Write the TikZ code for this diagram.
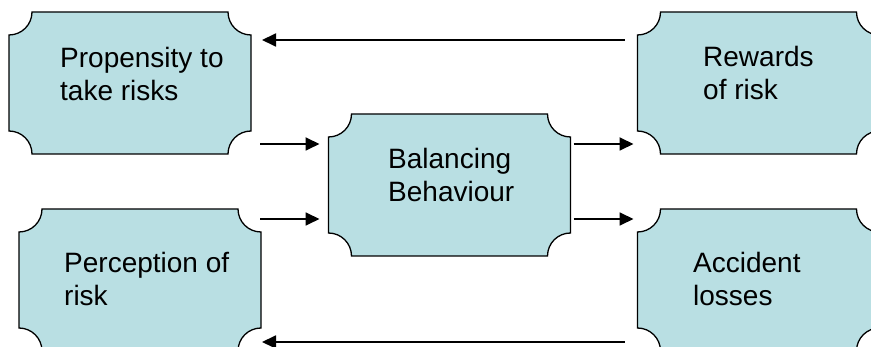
\documentclass[tikz,border=0pt]{standalone}
\usepackage{fontspec}
\setmainfont{Liberation Sans}
\usetikzlibrary{calc,arrows.meta}
\definecolor{boxfill}{RGB}{185,223,227}
\def\pr{23}
\def\pk{12.7}
\newcommand\plaque[1]{%
 \path[plaqueshape] ($(#1.north west)+(\pr,0)$) -- ($(#1.north east)+(-\pr,0)$)
  .. controls ($(#1.north east)+(-\pr,\pk)$) and ($(#1.north east)+(-\pk,\pr)$) .. ($(#1.north east)+(0,\pr)$)
  -- ($(#1.south east)+(0,-\pr)$)
  .. controls ($(#1.south east)+(-\pk,-\pr)$) and ($(#1.south east)+(-\pr,-\pk)$) .. ($(#1.south east)+(-\pr,0)$)
  -- ($(#1.south west)+(\pr,0)$)
  .. controls ($(#1.south west)+(\pr,-\pk)$) and ($(#1.south west)+(\pk,-\pr)$) .. ($(#1.south west)+(0,-\pr)$)
  -- ($(#1.north west)+(0,\pr)$)
  .. controls ($(#1.north west)+(\pk,\pr)$) and ($(#1.north west)+(\pr,\pk)$) .. cycle;}
\tikzset{
  boxarea/.style={rectangle, inner sep=0pt, outer sep=0pt, minimum width=242pt, minimum height=142pt},
  plaqueshape/.style={draw=black, line width=1.3pt, fill=boxfill},
  label/.style={anchor=base west, align=left, inner sep=0pt, font=\fontsize{28}{32.5}\selectfont},
  arr/.style={line width=1.8pt, -{Triangle[length=14pt,width=13pt]}}
}
\begin{document}
\begin{tikzpicture}[x=1pt,y=-1pt]
\useasboundingbox (0,0) rectangle (871,347);
\clip (0,0) rectangle (871,347);
\node[boxarea] (b1) at (130,83) {};
\node[boxarea] (b2) at (449.5,185) {};
\node[boxarea] (b3) at (758.5,83) {};
\node[boxarea] (b4) at (140,280) {};
\node[boxarea] (b5) at (758.5,280) {};
\plaque{b1}\plaque{b2}\plaque{b3}\plaque{b4}\plaque{b5}
\node[label] (t1) at (60,100.5) {Propensity to\\take risks};
\node[label] (t2) at (388,201.5) {Balancing\\Behaviour};
\node[label] (t3) at (703,99.5) {Rewards\\of risk};
\node[label] (t4) at (64,305.5) {Perception of\\risk};
\node[label] (t5) at (693,305.5) {Accident\\losses};
\draw[arr] ($(b3.north west)+(-13,28)$) -- ($(b1.north east)+(11,28)$);
\draw[arr] ($(b1.north east)+(9,132)$) -- ($(b2.north west)+(-9,30)$);
\draw[arr] ($(b4.north east)+(-1,10)$) -- ($(b2.south west)+(-9,-37)$);
\draw[arr] ($(b2.north east)+(3,30)$) -- ($(b3.south west)+(-4,-10)$);
\draw[arr] ($(b2.south east)+(3,-37)$) -- ($(b5.north west)+(-4,10)$);
\draw[arr] ($(b5.north west)+(-13,133)$) -- ($(b4.north east)+(1,133)$);
\end{tikzpicture}
\end{document}
